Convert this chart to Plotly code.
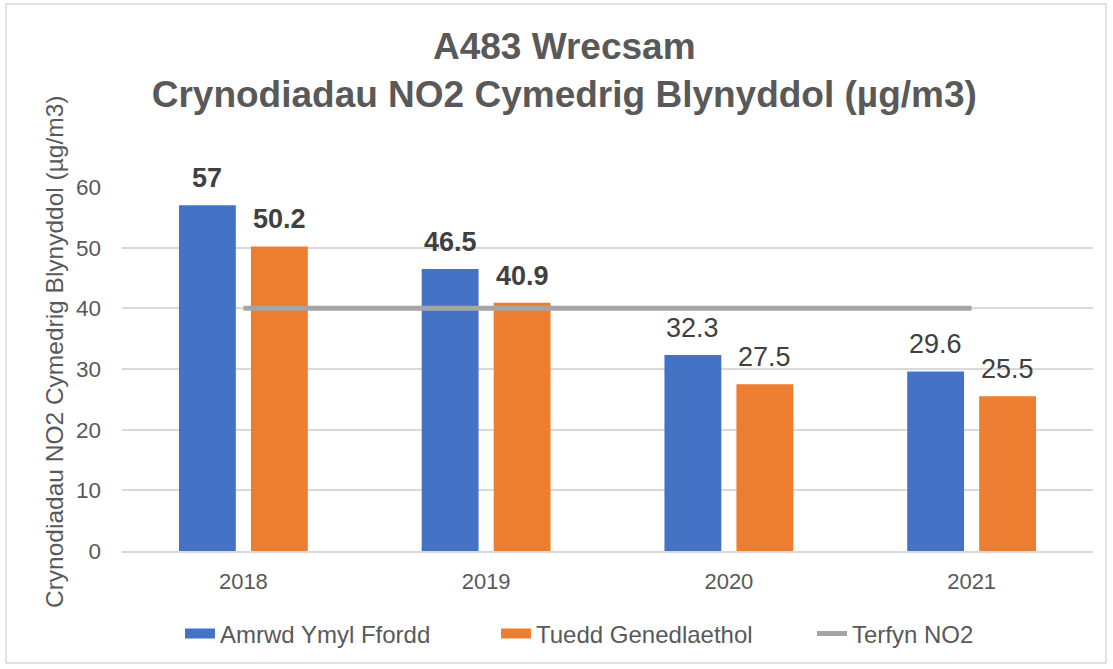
import plotly.graph_objects as go

years = ["2018", "2019", "2020", "2021"]
roadside = [57, 46.5, 32.3, 29.6]
national = [50.2, 40.9, 27.5, 25.5]
limit = [40, 40, 40, 40]
bold_label_years = ["2018", "2019"]

def label(year, v):
    s = f"{v:g}"
    return f"<b>{s}</b>" if year in bold_label_years else s

FONT = "Liberation Sans, Arial, sans-serif"
GREY = "#595959"
BLUE = "#4472C4"
ORANGE = "#ED7D31"
LGREY = "#A5A5A5"

fig = go.Figure()
fig.add_trace(go.Bar(
    x=years, y=roadside, name="Amrwd Ymyl Ffordd", showlegend=False,
    marker=dict(color=BLUE, line=dict(width=0)),
))
fig.add_trace(go.Bar(
    x=years, y=national, name="Tuedd Genedlaethol", showlegend=False,
    marker=dict(color=ORANGE, line=dict(width=0)),
))
fig.add_trace(go.Scatter(
    x=years, y=limit, name="Terfyn NO2", mode="lines", showlegend=False,
    line=dict(color=LGREY, width=5),
))
# legend entries (rectangular swatches like the original)
for name, col, w in [("Amrwd Ymyl Ffordd", BLUE, 13), ("Tuedd Genedlaethol", ORANGE, 13), ("Terfyn NO2", LGREY, 5)]:
    fig.add_trace(go.Scatter(x=[years[0]], y=[None], mode="lines", name=name,
                             line=dict(color=col, width=w)))

# data labels above bars (x given as category index on the category axis)
annotations = []
for vals, xs in [(roadside, -36), (national, 36)]:
    for i, (yr, v) in enumerate(zip(years, vals)):
        annotations.append(dict(
            x=i, y=v, xref="x", yref="y", text=label(yr, v), showarrow=False,
            xanchor="center", yanchor="bottom", xshift=xs, yshift=10,
            font=dict(size=27, color="#404040", family=FONT),
        ))

L, R, T, B = 122, 20, 187, 118
W, H = 1113, 669
pw, ph = W - L - R, H - T - B

def px_x(p):
    return (p - L) / pw

def px_y(p):
    return (H - B - p) / ph

annotations.append(dict(
    x=px_x(54), y=px_y(352), xref="paper", yref="paper", showarrow=False,
    text="Crynodiadau NO2 Cymedrig Blynyddol (µg/m3)", textangle=-90,
    xanchor="center", yanchor="middle",
    font=dict(size=24.5, color=GREY, family=FONT),
))

fig.update_layout(
    width=W, height=H,
    margin=dict(l=L, r=R, t=T, b=B, autoexpand=False),
    paper_bgcolor="white", plot_bgcolor="white",
    font=dict(family=FONT, color=GREY),
    barmode="group", bargap=0.407, bargroupgap=0.21,
    title=dict(
        text="<b>A483 Wrecsam<br>Crynodiadau NO2 Cymedrig Blynyddol (µg/m3)</b>",
        x=0.507, xanchor="center", y=1 - 59 / H, yanchor="middle",
        font=dict(size=37, color=GREY, family=FONT),
    ),
    legend=dict(
        orientation="h", x=px_x(180), xanchor="left", y=px_y(634), yanchor="middle",
        font=dict(size=24, color=GREY, family=FONT),
        entrywidth=271, entrywidthmode="pixels", traceorder="normal",
        bgcolor="rgba(0,0,0,0)",
    ),
    xaxis=dict(
        type="category", categoryorder="array", categoryarray=years,
        range=[-0.5, len(years) - 0.5],
        showgrid=False, showline=True, linecolor="#D9D9D9", linewidth=1.5,
        tickfont=dict(size=22, color=GREY, family=FONT), ticks="", ticklabelstandoff=10,
    ),
    yaxis=dict(
        range=[0, 60], dtick=10, showgrid=True, gridcolor="#D9D9D9", gridwidth=1.5,
        zeroline=False, showline=False,
        tickfont=dict(size=22.5, color=GREY, family=FONT), ticklabelstandoff=20,
    ),
    annotations=annotations,
    shapes=[dict(
        type="rect", xref="paper", yref="paper",
        x0=px_x(6), x1=px_x(1106), y0=px_y(663), y1=px_y(4),
        line=dict(color="#D9D9D9", width=1.5), fillcolor="rgba(0,0,0,0)", layer="below",
    )],
)

fig.write_html("out.html", post_script="document.body.style.margin='0';",
               config={"displayModeBar": False})
